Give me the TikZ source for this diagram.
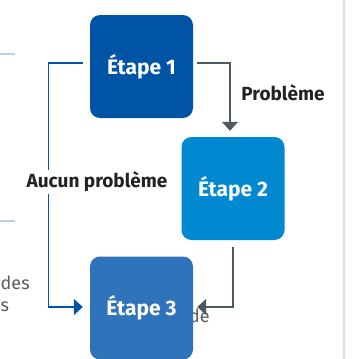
\documentclass[tikz,border=0pt]{standalone}
\usepackage{fontspec}
\setmainfont{Fira Sans}
\usetikzlibrary{arrows.meta}
\definecolor{stepone}{HTML}{0054A6}
\definecolor{steptwo}{HTML}{0089D0}
\definecolor{stepthree}{HTML}{2F73BA}
\definecolor{graylink}{HTML}{4D5A63}
\definecolor{bluelink}{HTML}{0054A6}
\definecolor{framecol}{HTML}{B9D1E9}
\definecolor{labeltext}{HTML}{222222}
\definecolor{bodytext}{HTML}{5A5A5A}
\tikzset{
  stepbox/.style={rounded corners=10pt, minimum width=103pt, minimum height=103pt,
    inner sep=0pt, text=white, font=\bfseries\fontsize{21}{24}\selectfont},
  graylinkstyle/.style={draw=graylink, line width=1.4pt, -{Triangle[length=9pt,width=16pt]}},
  bluelinkstyle/.style={draw=bluelink, line width=1.4pt, -{Triangle[length=9pt,width=16pt]}},
  linklabel/.style={text=labeltext, font=\bfseries\fontsize{19}{22}\selectfont, inner sep=2pt},
  framestyle/.style={draw=framecol, line width=1.2pt},
  bodystyle/.style={text=bodytext, font=\fontsize{18}{21}\selectfont, inner sep=0pt}
}
\begin{document}
\begin{tikzpicture}[x=1pt,y=-1pt]
\useasboundingbox (0,0) rectangle (354,359);
% frame pieces
\draw[framestyle] (0,54) -- (15,54);
\draw[framestyle] (0,221) -- (15,221);
\draw[framestyle] (322,-6) arc[start angle=90,end angle=0,radius=22] -- (344,365);
% background text
\node[bodystyle, anchor=base west] (tdes) at (0.5,289) {des};
\node[bodystyle, anchor=base west] (ts) at (0.5,311) {s};
\node[bodystyle, anchor=base west] (tde) at (189,322) {de};
% boxes
\node[stepbox, fill=stepone] (e1) at (141.5,66.5) {\raisebox{3pt}{Étape 1}};
\node[stepbox, fill=steptwo] (e2) at (233,188.5) {\raisebox{3pt}{Étape 2}};
\node[stepbox, fill=stepthree] (e3) at (141.5,308) {Étape 3};
% connectors
\coordinate (c1) at (230,63);
\coordinate (c2) at (48.5,63);
\coordinate (c3) at (48.5,307);
\coordinate (c4) at (233,307);
\draw[graylinkstyle] ([xshift=4pt]e1.east |- c1) -- (c1) -- ([yshift=6pt]c1 |- e2.north);
\draw[bluelinkstyle] ([xshift=-7pt]e1.west |- c2) -- (c2) -- (c3) -- ([xshift=-7pt]e3.west |- c3);
\draw[graylinkstyle] ([yshift=-7pt]c4 |- e2.south) -- (c4) -- ([xshift=4pt]e3.east |- c4);
% labels
\node[linklabel, fill=white] (l2) at (97,182) {Aucun problème};
\node[linklabel] (l1) at (283,93) {Problème};
\end{tikzpicture}
\end{document}
